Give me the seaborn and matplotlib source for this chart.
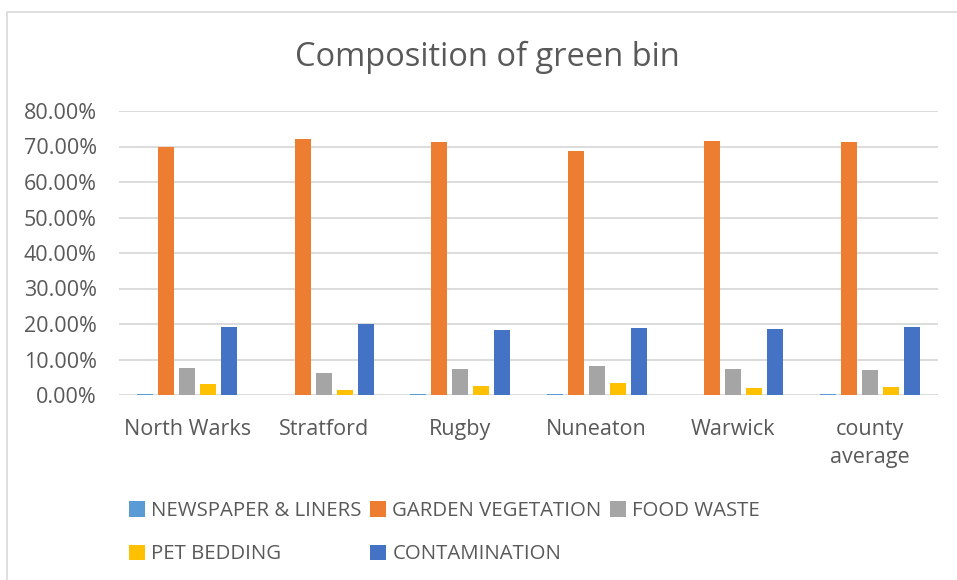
import matplotlib
matplotlib.use("Agg")
import matplotlib.pyplot as plt
from matplotlib.patches import Rectangle
from matplotlib.ticker import FuncFormatter
import pandas as pd
import seaborn as sns

# Composition of green bin collections by district (share of total weight)
districts = ["North Warks", "Stratford", "Rugby", "Nuneaton", "Warwick", "county\naverage"]
materials = ["NEWSPAPER & LINERS", "GARDEN VEGETATION", "FOOD WASTE", "PET BEDDING", "CONTAMINATION"]

newspaper = [0.003, 0.001, 0.002, 0.003, 0.001, 0.002]
garden = [0.698, 0.722, 0.713, 0.688, 0.716, 0.713]
food = [0.075, 0.063, 0.072, 0.082, 0.073, 0.070]
pet = [0.030, 0.014, 0.025, 0.035, 0.019, 0.022]
contamination = [0.192, 0.199, 0.183, 0.188, 0.187, 0.192]

colors = ["#5B9BD5", "#ED7D31", "#A5A5A5", "#FFC000", "#4472C4"]
text_col = "#595959"

series = [newspaper, garden, food, pet, contamination]
rows = []
for mat, vals in zip(materials, series):
    for d, v in zip(districts, vals):
        rows.append({"district": d, "material": mat, "share": v})
df = pd.DataFrame(rows)

sns.set_theme(style="white")
plt.rcParams["font.family"] = ["Open Sans", "DejaVu Sans"]

W, H = 957, 580
fig = plt.figure(figsize=(W / 100, H / 100), dpi=100)
fig.patch.set_facecolor("white")

# outer chart frame
fig.add_artist(Rectangle((7 / W, -0.01), 1.05, 1 - 12 / H + 0.01,
                         transform=fig.transFigure, fill=False,
                         edgecolor="#D9D9D9", linewidth=1.2))

ax = fig.add_axes([119 / W, 1 - 395 / H, (938 - 119) / W, (395 - 111) / H])
sns.barplot(data=df, x="district", y="share", hue="material",
            hue_order=materials, order=districts, palette=colors,
            width=0.77, gap=0.22, ax=ax, saturation=1, legend=True,
            linewidth=0)

ax.set_ylim(0, 0.8)
ax.set_yticks([i / 10 for i in range(9)])
ax.yaxis.set_major_formatter(FuncFormatter(lambda v, _: f"{v * 100:.2f}%"))
ax.set_xlabel("")
ax.set_ylabel("")
ax.grid(axis="y", color="#D9D9D9", linewidth=1.3)
ax.set_axisbelow(True)
for s in ax.spines.values():
    s.set_visible(False)
ax.tick_params(axis="both", length=0, colors=text_col)
ax.tick_params(axis="y", pad=16, labelsize=15.5)
ax.tick_params(axis="x", pad=17, labelsize=15.5)
for lbl in ax.get_xticklabels():
    lbl.set_linespacing(1.45)

handles, labels = ax.get_legend_handles_labels()
ax.get_legend().remove()
order = [0, 3, 1, 4, 2]
leg = fig.legend([handles[i] for i in order], [labels[i] for i in order],
                 ncol=3, loc="upper left", bbox_to_anchor=(129 / W, 1 - 501 / H),
                 frameon=False, fontsize=14.7, handlelength=0.8, handleheight=0.8,
                 handletextpad=0.3, columnspacing=0.4, labelspacing=1.15,
                 labelcolor=text_col, borderaxespad=0, borderpad=0)

fig.text(487 / W, 1 - 57 / H, "Composition of green bin", ha="center", va="center",
         fontsize=23.5, color=text_col)

fig.savefig("out.png", dpi=100)
